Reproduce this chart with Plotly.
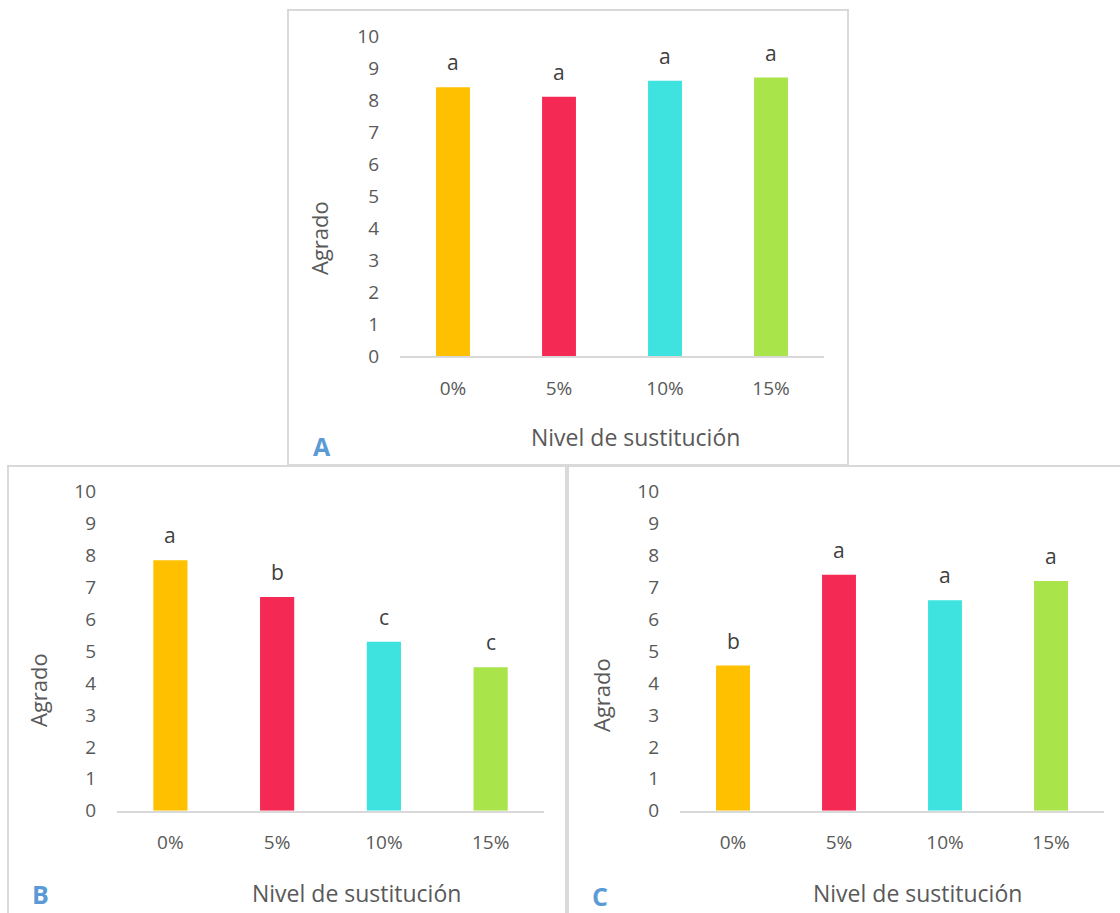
import plotly.graph_objects as go

# Data
niveles = ["0%", "5%", "10%", "15%"]
agrado_a = [8.4, 8.1, 8.6, 8.7]
agrado_b = [7.85, 6.7, 5.3, 4.5]
agrado_c = [4.55, 7.4, 6.6, 7.2]
letras_a = ["a", "a", "a", "a"]
letras_b = ["a", "b", "c", "c"]
letras_c = ["b", "a", "a", "a"]
y_ticks = list(range(0, 11))

colores = ["#FFC000", "#F42A55", "#3EE3E0", "#A9E44A"]

W, H = 1120, 913
FONT = "Open Sans"
GRIS = "#595959"
TEXTO = "#404040"
AZUL = "#5B9BD5"
BORDE = "#D9D9D9"


def fx(px):
    return px / W


def fy(py):
    return 1 - py / H


# panel layout in pixels: plot area (x0, x1, y_zero, y_ten), frame, label positions
paneles = [
    dict(nombre="A", valores=agrado_a, letras=letras_a, ax="", plot=(400, 824, 356, 36),
         frame=(288, 10, 848, 465), agrado=(319, 238), nivel=(635, 437), letra=(322, 446)),
    dict(nombre="B", valores=agrado_b, letras=letras_b, ax="2", plot=(117, 544, 810.7, 491.7),
         frame=(8, 466, 566, 930), agrado=(38, 690), nivel=(356, 893), letra=(40, 894)),
    dict(nombre="C", valores=agrado_c, letras=letras_c, ax="3", plot=(680, 1104, 810.7, 491.7),
         frame=(568, 466, 1130, 930), agrado=(601, 695), nivel=(917, 893), letra=(600, 896)),
]

fig = go.Figure()
annotations = []
shapes = []

for p in paneles:
    xa = "x" + p["ax"]
    ya = "y" + p["ax"]
    fig.add_trace(go.Bar(
        x=niveles, y=p["valores"], marker=dict(color=colores, line=dict(width=0)),
        width=0.32, xaxis=xa, yaxis=ya, showlegend=False, hoverinfo="x+y",
    ))
    x0, x1, yz, yt = p["plot"]
    fig.update_layout(**{
        ("xaxis" + p["ax"]): dict(
            domain=[fx(x0), fx(x1)], anchor=ya, type="category",
            categoryorder="array", categoryarray=niveles, range=[-0.5, 3.5],
            showline=True, linecolor=BORDE, linewidth=1.5, showgrid=False,
            zeroline=False, ticks="", ticklabelstandoff=14,
            tickfont=dict(family=FONT, size=19, color=GRIS), fixedrange=True,
        ),
        ("yaxis" + p["ax"]): dict(
            domain=[fy(yz), fy(yt)], anchor=xa, range=[0, 10],
            tickmode="array", tickvals=y_ticks, ticktext=[str(v) for v in y_ticks],
            showline=False, showgrid=False, zeroline=False, ticks="",
            ticklabelstandoff=20,
            tickfont=dict(family=FONT, size=19, color=GRIS), fixedrange=True,
        ),
    })
    # significance letters above each bar
    for cat, val, let in zip(niveles, p["valores"], p["letras"]):
        annotations.append(dict(
            x=cat, y=val, xref=xa, yref=ya, text=let, showarrow=False,
            yanchor="middle", yshift=25,
            font=dict(family=FONT, size=21, color=TEXTO),
        ))
    # axis titles and panel letter
    ax_, ay_ = p["agrado"]
    annotations.append(dict(
        x=fx(ax_), y=fy(ay_), xref="paper", yref="paper", text="Agrado",
        textangle=-90, showarrow=False, xanchor="center", yanchor="middle",
        font=dict(family=FONT, size=22, color=GRIS),
    ))
    nx, ny = p["nivel"]
    annotations.append(dict(
        x=fx(nx), y=fy(ny), xref="paper", yref="paper", text="Nivel de sustitución",
        showarrow=False, xanchor="center", yanchor="middle",
        font=dict(family=FONT, size=23, color=GRIS),
    ))
    lx, ly = p["letra"]
    annotations.append(dict(
        x=fx(lx), y=fy(ly), xref="paper", yref="paper", text="<b>%s</b>" % p["nombre"],
        showarrow=False, xanchor="center", yanchor="middle",
        font=dict(family=FONT, size=25, color=AZUL),
    ))
    # panel frame
    fx0, fy0, fx1, fy1 = p["frame"]
    shapes.append(dict(
        type="rect", xref="paper", yref="paper",
        x0=fx(fx0), x1=fx(fx1), y0=fy(fy1), y1=fy(fy0),
        line=dict(color=BORDE, width=2), fillcolor="rgba(0,0,0,0)", layer="below",
    ))

fig.update_layout(
    width=W, height=H, margin=dict(l=0, r=0, t=0, b=0, autoexpand=False),
    paper_bgcolor="white", plot_bgcolor="white",
    annotations=annotations, shapes=shapes, bargap=0.68,
    font=dict(family=FONT),
)

fig.write_html("out.html", config={"displayModeBar": False})
